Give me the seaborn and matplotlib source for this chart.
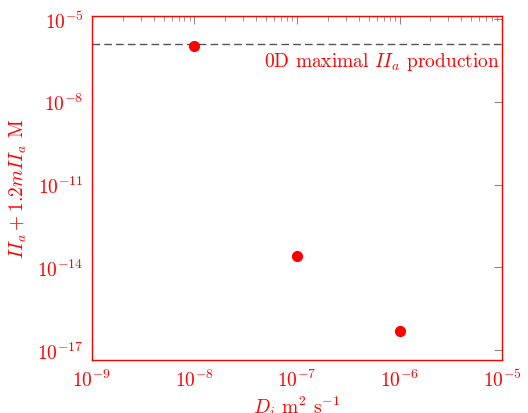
import matplotlib
matplotlib.use("Agg")
import matplotlib.pyplot as plt
import seaborn as sns
import pandas as pd
import numpy as np

D_values = [1e-8, 1e-7, 1e-6]
production = [1.05e-6, 2.6e-14, 5e-17]
max_0d = 1.25e-6
x_ticks = [1e-9, 1e-8, 1e-7, 1e-6, 1e-5]
y_ticks = [1e-17, 1e-14, 1e-11, 1e-8, 1e-5]

sns.set_style("white")
plt.rcParams['font.family'] = ['cmr10']
plt.rcParams['mathtext.fontset'] = 'cm'
plt.rcParams['axes.formatter.use_mathtext'] = True
plt.rcParams['axes.unicode_minus'] = False

red = '#ff0000'
fig = plt.figure(figsize=(5.28, 4.14), dpi=100)
ax = fig.add_axes([0.174, 0.128, 0.777, 0.831])

df = pd.DataFrame({"D": D_values, "P": production})
sns.scatterplot(data=df, x="D", y="P", ax=ax, color=red, s=65, edgecolor=red, linewidth=0, zorder=3)
ax.axhline(max_0d, color='#555555', ls=(0, (5.5, 3)), lw=1.0)
ax.set_xscale('log')
ax.set_yscale('log')
ax.set_xlim(1e-9, 1e-5)
ax.set_ylim(10**-17.36, 10**-4.89)
ax.set_xticks(x_ticks)
ax.set_yticks(y_ticks)
ax.yaxis.set_minor_locator(matplotlib.ticker.NullLocator())
ax.xaxis.set_minor_locator(matplotlib.ticker.LogLocator(base=10, subs=np.arange(2, 10)))
ax.xaxis.set_minor_formatter(matplotlib.ticker.NullFormatter())
ax.tick_params(which='both', direction='in', top=True, right=True, color='#888888', labelcolor=red, labelsize=14)
ax.tick_params(which='major', length=6, width=0.8, pad=6)
ax.tick_params(which='minor', length=3.5, width=0.6)
for s in ax.spines.values():
    s.set_color(red)
    s.set_linewidth(1.0)
ax.text(0.993, 0.868, r'0D maximal $II_a$ production', transform=ax.transAxes, ha='right', va='center', color=red, fontsize=14)
ax.set_xlabel(r'$D_i$ m$^2$ s$^{-1}$', color=red, fontsize=14, labelpad=3)
ax.set_ylabel(r'$II_a + 1.2mII_a$ M', color=red, fontsize=14, labelpad=6)
fig.savefig('out.png', dpi=100)
